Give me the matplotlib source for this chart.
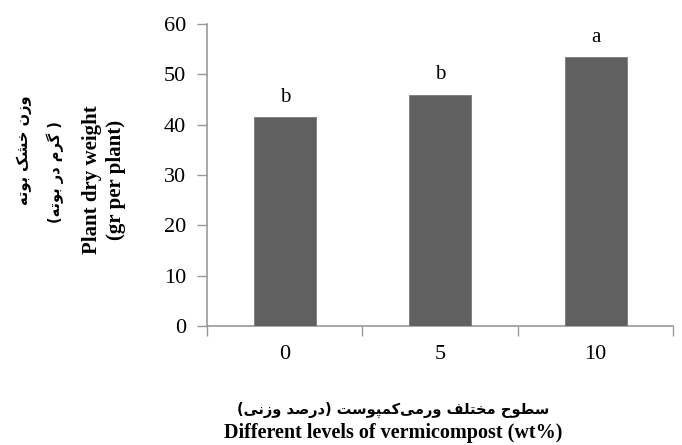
import matplotlib
matplotlib.use("Agg")
import matplotlib.pyplot as plt
import numpy as np

# Data
levels = ["0", "5", "10"]
dry_weight = [41.5, 45.9, 53.4]
letters = ["b", "b", "a"]

ylabel_fa_1 = "وزن خشک بوته"
ylabel_fa_2 = "( گرم در بوته)"
ylabel_en = "Plant dry weight\n(gr per plant)"
xlabel_fa = "سطوح مختلف ورمی\u200cکمپوست (درصد وزنی)"
xlabel_en = "Different levels of vermicompost (wt%)"

# Simple Persian shaping (matplotlib has no RTL layout)
# letter: (isolated, final, initial, medial); two entries = joins only to the right
FORMS = {
    "ب": (0xFE8F, 0xFE90, 0xFE91, 0xFE92),
    "پ": (0xFB56, 0xFB57, 0xFB58, 0xFB59),
    "ت": (0xFE95, 0xFE96, 0xFE97, 0xFE98),
    "ح": (0xFEA1, 0xFEA2, 0xFEA3, 0xFEA4),
    "خ": (0xFEA5, 0xFEA6, 0xFEA7, 0xFEA8),
    "س": (0xFEB1, 0xFEB2, 0xFEB3, 0xFEB4),
    "ش": (0xFEB5, 0xFEB6, 0xFEB7, 0xFEB8),
    "ص": (0xFEB9, 0xFEBA, 0xFEBB, 0xFEBC),
    "ط": (0xFEC1, 0xFEC2, 0xFEC3, 0xFEC4),
    "ف": (0xFED1, 0xFED2, 0xFED3, 0xFED4),
    "ک": (0xFB8E, 0xFB8F, 0xFB90, 0xFB91),
    "گ": (0xFB92, 0xFB93, 0xFB94, 0xFB95),
    "ل": (0xFEDD, 0xFEDE, 0xFEDF, 0xFEE0),
    "م": (0xFEE1, 0xFEE2, 0xFEE3, 0xFEE4),
    "ن": (0xFEE5, 0xFEE6, 0xFEE7, 0xFEE8),
    "ه": (0xFEE9, 0xFEEA, 0xFEEB, 0xFEEC),
    "ی": (0xFBFC, 0xFBFD, 0xFBFE, 0xFBFF),
    "د": (0xFEA9, 0xFEAA),
    "ر": (0xFEAD, 0xFEAE),
    "ز": (0xFEAF, 0xFEB0),
    "و": (0xFEED, 0xFEEE),
}


def shape_fa(text):
    out = []
    n = len(text)
    for i, ch in enumerate(text):
        if ch == "\u200c":
            continue
        if ch not in FORMS:
            out.append({"(": ")", ")": "("}.get(ch, ch))
            continue
        f = FORMS[ch]
        prev = text[i - 1] if i > 0 else ""
        nxt = text[i + 1] if i + 1 < n else ""
        join_prev = prev in FORMS and len(FORMS[prev]) == 4
        join_next = len(f) == 4 and nxt in FORMS
        if join_prev and join_next:
            g = f[3]
        elif join_prev:
            g = f[1]
        elif join_next:
            g = f[2]
        else:
            g = f[0]
        out.append(chr(g))
    return "".join(reversed(out))


serif = "Liberation Serif"
fa_font = "DejaVu Sans"

fig = plt.figure(figsize=(6.82, 4.45), dpi=100)
ax = fig.add_axes([0.3035, 0.2674, 0.684, 0.6786])

x = np.arange(len(levels))
ax.bar(x, dry_weight, width=0.4, color="#606060", edgecolor="#7a7a7a", linewidth=0.6, zorder=3)

for xi, v, lt in zip(x, dry_weight, letters):
    ax.text(xi, v + 3.1, lt, ha="center", va="baseline", fontsize=15, family=serif)

ax.set_xlim(-0.5, 2.5)
ax.set_ylim(0, 60)
ax.set_yticks(np.arange(0, 61, 10))
ax.set_xticks(x)
ax.set_xticklabels(levels)
ax.set_xticks(np.arange(-0.5, 2.6, 1), minor=True)

ax.tick_params(axis="x", which="major", length=0, pad=14, labelsize=16)
ax.tick_params(axis="x", which="minor", length=7, width=1, color="#999999", direction="out")
ax.tick_params(axis="y", length=7, width=1, color="#999999", labelsize=16, pad=8)
for lab in ax.get_xticklabels() + ax.get_yticklabels():
    lab.set_family(serif)

for s in ["top", "right"]:
    ax.spines[s].set_visible(False)
for s in ["left", "bottom"]:
    ax.spines[s].set_color("#999999")
    ax.spines[s].set_linewidth(1.2)

# Y axis labels
fig.text(24 / 682, 1 - 150 / 445, shape_fa(ylabel_fa_1), rotation=90, ha="center", va="center",
         fontsize=10.5, family=fa_font, fontweight="bold")
fig.text(55 / 682, 1 - 172 / 445, shape_fa(ylabel_fa_2), rotation=90, ha="center", va="center",
         fontsize=10.5, family=fa_font, fontweight="bold")
fig.text(104 / 682, 1 - 180 / 445, ylabel_en, rotation=90, ha="center", va="center",
         fontsize=15, family=serif, fontweight="bold", linespacing=1.3)

# X axis labels
fig.text(393 / 682, 1 - 410 / 445, shape_fa(xlabel_fa), ha="center", va="center",
         fontsize=10.5, family=fa_font, fontweight="bold")
fig.text(393 / 682, 1 - 433 / 445, xlabel_en, ha="center", va="center",
         fontsize=14.5, family=serif, fontweight="bold")

fig.savefig("out.png", dpi=100)
